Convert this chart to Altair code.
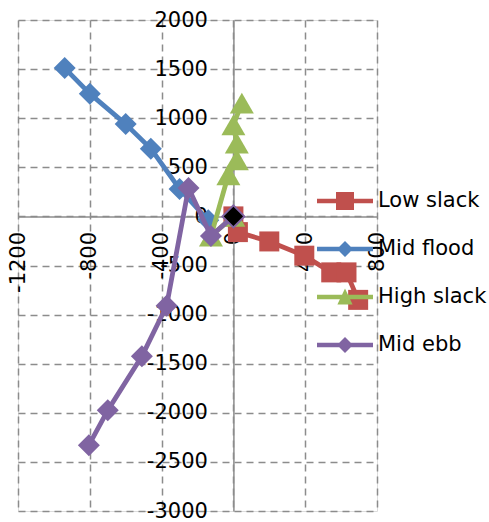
import altair as alt
import pandas as pd

# Series definitions
series_names = ["Low slack", "Mid flood", "High slack", "Mid ebb"]
series_colors = ["#C0504D", "#4F81BD", "#9BBB59", "#8064A2"]
series_markers = ["square", "diamond", "triangle-up", "diamond"]
marker_sizes = [400, 484, 576, 484]

low_slack_x = [0, 25, 200, 395, 545, 630, 695]
low_slack_y = [0, -160, -255, -400, -570, -570, -850]

mid_flood_x = [-940, -800, -600, -460, -300, -140]
mid_flood_y = [1510, 1250, 940, 690, 280, -40]

high_slack_x = [0, -125, -28, 19, 19, 0, 47]
high_slack_y = [0, -200, 424, 577, 747, 933, 1154]

mid_ebb_x = [-805, -700, -510, -372, -250, -125, 0]
mid_ebb_y = [-2330, -1975, -1425, -910, 290, -200, 0]

x_ticks = [-1200, -800, -400, 0, 400, 800]
y_ticks = [2000, 1500, 1000, 500, 0, -500, -1000, -1500, -2000, -2500, -3000]

# Legend glyphs (Vega unit box is -1..1): a horizontal stroke with the
# series marker in the middle
legend_stroke = "M-1.4,-0.118L1.4,-0.118L1.4,0.118L-1.4,0.118Z"
legend_glyphs = [
    legend_stroke + "M-0.45,-0.45L0.45,-0.45L0.45,0.45L-0.45,0.45Z",
    legend_stroke + "M0,-0.4L0.4,0L0,0.4L-0.4,0Z",
    legend_stroke + "M0,-0.42L0.38,0.38L-0.38,0.38Z",
    legend_stroke + "M0,-0.4L0.4,0L0,0.4L-0.4,0Z",
]

xs_all = [low_slack_x, mid_flood_x, high_slack_x, mid_ebb_x]
ys_all = [low_slack_y, mid_flood_y, high_slack_y, mid_ebb_y]

rows = []
for name, xs, ys in zip(series_names, xs_all, ys_all):
    for i, (xv, yv) in enumerate(zip(xs, ys)):
        rows.append({"series": name, "order": i, "x": xv, "y": yv})
df = pd.DataFrame(rows)

W, H = 359, 491
X_MIN, X_MAX = -1200, 800
Y_MIN, Y_MAX = -3000, 2000

grid_gray = "#8C8C8C"
axis_gray = "#8C8C8C"
font = "DejaVu Sans"
neg_label = "(datum.value < 0 ? '-' : '') + abs(datum.value)"

x_scale = alt.Scale(domain=[X_MIN, X_MAX], nice=False, zero=False)
y_scale = alt.Scale(domain=[Y_MIN, Y_MAX], nice=False, zero=False)

# Axes cross at the origin: shift them inward by the scale position of zero
x_axis = alt.Axis(
    values=x_ticks, orient="bottom", offset=-H * (0 - Y_MIN) / (Y_MAX - Y_MIN),
    grid=True, gridDash=[7, 5], gridColor=grid_gray, gridWidth=1.5,
    domainColor=axis_gray, domainWidth=1.5, ticks=False,
    labelAngle=270, labelAlign="right", labelBaseline="middle", labelPadding=15,
    labelFont=font, labelFontSize=21, labelColor="black",
    labelFlush=False, labelOverlap=False, labelExpr=neg_label, title=None,
)
y_axis = alt.Axis(
    values=y_ticks, orient="left", offset=-W * (0 - X_MIN) / (X_MAX - X_MIN),
    grid=True, gridDash=[7, 5], gridColor=grid_gray, gridWidth=1.5,
    domainColor=axis_gray, domainWidth=1.5, ticks=False,
    labelBaseline="middle", labelPadding=26,
    labelFont=font, labelFontSize=21, labelColor="black",
    labelFlush=False, labelOverlap=False, labelExpr=neg_label, title=None,
)

x_enc = alt.X("x:Q", scale=x_scale, axis=x_axis)
y_enc = alt.Y("y:Q", scale=y_scale, axis=y_axis)

layers = []
for name, color, marker, size in zip(series_names, series_colors, series_markers, marker_sizes):
    base = alt.Chart(df).transform_filter(alt.datum.series == name)
    line = base.mark_line(
        color=color, strokeWidth=4.8, strokeJoin="round", strokeCap="round"
    ).encode(x=x_enc, y=y_enc, order="order:Q")
    pts = base.mark_point(
        shape=marker, size=size, filled=True, color=color, opacity=1
    ).encode(x=x_enc, y=y_enc)
    layers += [line, pts]

# Final Mid ebb point is drawn as a black diamond with a purple edge
end_df = df[df["series"] == "Mid ebb"].tail(1)
end_pt = alt.Chart(end_df).mark_point(
    shape="diamond", size=484, filled=True, fill="black", stroke="#8064A2",
    strokeWidth=2, opacity=1
).encode(x=x_enc, y=y_enc)
layers.append(end_pt)

# Legend carrier (transparent points; only the legend is seen)
series_legend = alt.Legend(
    title=None, orient="none", legendX=307, legendY=161,
    symbolSize=1600, symbolStrokeWidth=0, symbolOpacity=1,
    labelFont=font, labelFontSize=21, labelColor="black",
    labelOffset=13, labelLimit=400, rowPadding=18, padding=0,
)
legend_df = pd.DataFrame({"series": series_names})
legend_layer = alt.Chart(legend_df).mark_point(filled=True, opacity=0, size=1600).encode(
    shape=alt.Shape(
        "series:N",
        scale=alt.Scale(domain=series_names, range=legend_glyphs),
        legend=series_legend,
    ),
    color=alt.Color(
        "series:N",
        scale=alt.Scale(domain=series_names, range=series_colors),
        legend=series_legend,
    ),
)
layers.append(legend_layer)

chart = alt.layer(*layers).properties(
    width=W, height=H,
    padding={"left": 18, "top": 20, "right": 112, "bottom": 11},
    autosize=alt.AutoSizeParams(type="none"),
).configure_view(stroke=None).configure(background="white")

chart.save("out.html", embed_options={"renderer": "svg", "actions": False})
